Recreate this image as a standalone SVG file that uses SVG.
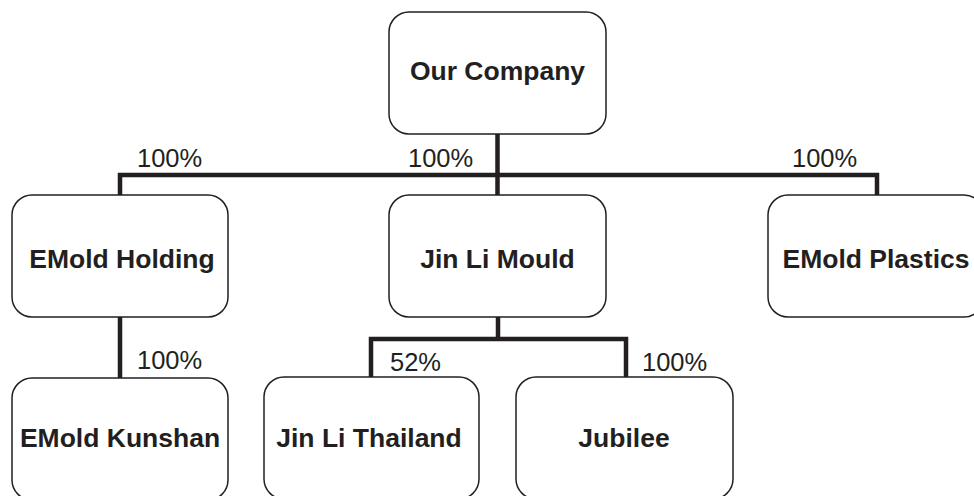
<svg xmlns="http://www.w3.org/2000/svg" width="974" height="496" viewBox="0 0 974 496">
<style>
.box{fill:#fff;stroke:#231f20;stroke-width:1.5}
.lbl{font-family:"Liberation Sans",Arial,Helvetica,sans-serif;font-weight:bold;font-size:26.5px;fill:#231f20;text-anchor:middle}
.pct{font-family:"Liberation Sans",Arial,Helvetica,sans-serif;font-size:25.5px;fill:#231f20}
.con{fill:none;stroke:#231f20;stroke-width:4.5;stroke-linejoin:miter}
</style>
<rect width="974" height="496" fill="#fff"/>
<g id="connectors">
<path class="con" d="M497.5 134V195"/>
<path class="con" d="M120 195V175H877V195"/>
<path class="con" d="M120 317V378"/>
<path class="con" d="M498 317V339"/>
<path class="con" d="M371 377V339H626V377"/>
<text class="pct" x="137" y="167">100%</text>
<text class="pct" x="408" y="167">100%</text>
<text class="pct" x="792" y="167">100%</text>
<text class="pct" x="137" y="369">100%</text>
<text class="pct" x="390" y="371">52%</text>
<text class="pct" x="642" y="371">100%</text>
</g>
<g id="our-company">
<rect class="box" x="389" y="12" width="217" height="122" rx="20"/>
<text class="lbl" x="497.5" y="80">Our Company</text>
</g>
<g id="emold-holding">
<rect class="box" x="12" y="195" width="216" height="122" rx="20"/>
<text class="lbl" x="122" y="268">EMold Holding</text>
</g>
<g id="jin-li-mould">
<rect class="box" x="389" y="195" width="217" height="122" rx="20"/>
<text class="lbl" x="497.5" y="268">Jin Li Mould</text>
</g>
<g id="emold-plastics">
<rect class="box" x="768" y="195" width="216" height="122" rx="20"/>
<text class="lbl" x="876" y="268">EMold Plastics</text>
</g>
<g id="emold-kunshan">
<rect class="box" x="12" y="378" width="216" height="122" rx="20"/>
<text class="lbl" x="120" y="447">EMold Kunshan</text>
</g>
<g id="jin-li-thailand">
<rect class="box" x="264" y="377" width="215" height="122" rx="20"/>
<text class="lbl" x="369" y="447">Jin Li Thailand</text>
</g>
<g id="jubilee">
<rect class="box" x="516" y="377" width="217" height="122" rx="20"/>
<text class="lbl" x="624" y="447">Jubilee</text>
</g>
</svg>
